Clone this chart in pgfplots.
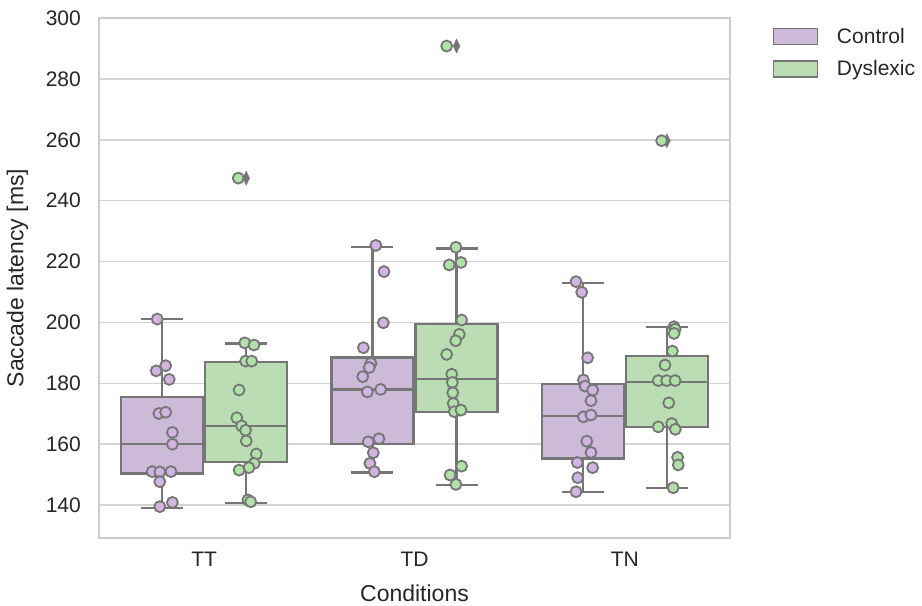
\documentclass[border=0pt]{standalone}
\usepackage{pgfplots}
\pgfplotsset{compat=1.18}
\usepackage{fontspec}
\setmainfont{Liberation Sans}
\definecolor{boxpurple}{RGB}{205,186,217}
\definecolor{boxgreen}{RGB}{186,221,180}
\definecolor{ptpurple}{RGB}{210,180,226}
\definecolor{ptgreen}{RGB}{176,226,168}
\definecolor{edgegray}{RGB}{118,118,118}
\definecolor{gridgray}{RGB}{212,212,212}
\definecolor{spinegray}{RGB}{204,204,204}
\definecolor{txt}{RGB}{38,38,38}
\pgfplotsset{
  boxfill/.style={draw=edgegray, line width=2.2bp, fill=#1, forget plot, mark=none},
  boxline/.style={draw=edgegray, line width=2.2bp, forget plot, mark=none, unbounded coords=jump},
  ptstyle/.style={only marks, mark=*, mark size=5.5bp, forget plot,
    mark options={draw=edgegray, line width=1.8bp, fill=#1}},
  flstyle/.style={only marks, mark=diamond*, mark size=7bp, forget plot,
    draw=edgegray, fill=edgegray, mark options={xscale=0.65}},
}
\begin{document}
\begin{tikzpicture}
\begin{axis}[
  at={(0,0)}, anchor=south west,
  scale only axis, width=631bp, height=520bp,
  xmin=-0.5, xmax=2.5, ymin=129.2, ymax=300,
  xtick={0,1,2}, xticklabels={TT,TD,TN},
  ytick={140,160,180,200,220,240,260,280,300},
  /pgf/number format/assume math mode=true,
  major tick length=0pt,
  ymajorgrids, grid style={gridgray, line width=1.6bp},
  axis line style={spinegray, line width=1.8bp},
  ticklabel style={font=\fontsize{21bp}{25bp}\selectfont, text=txt},
  yticklabel style={inner sep=0pt, xshift=-18bp},
  xticklabel style={inner sep=0pt, yshift=-14bp},
  xlabel={Conditions}, ylabel={Saccade latency [ms]},
  label style={font=\fontsize{23bp}{27bp}\selectfont, text=txt},
  xlabel style={at={(axis description cs:0.5,0)}, anchor=base, yshift=-63bp},
  ylabel style={at={(axis description cs:-0.1200,0.5)}, anchor=base, inner sep=0pt},
  legend style={draw=none, fill=none, at={(1,1)}, anchor=north west,
    xshift=43bp, yshift=-8bp, inner sep=0pt,
    font=\fontsize{21bp}{25bp}\selectfont, text=txt, row sep=11.7bp},
  legend cell align=left,
]
% fliers
\addplot[flstyle] coordinates {(0.2,247.4) (1.2,290.8) (2.2,259.7)};

% ---- boxes: TT
\addplot[boxline] coordinates {(-0.2,175.6) (-0.2,201.1) (nan,nan) (-0.3,201.1) (-0.1,201.1) (nan,nan)
  (-0.2,150.4) (-0.2,139.1) (nan,nan) (-0.3,139.1) (-0.1,139.1)};
\addplot[boxfill=boxpurple] coordinates {(-0.395,150.4) (-0.005,150.4) (-0.005,175.6) (-0.395,175.6)} -- cycle;
\addplot[boxline] coordinates {(-0.395,160.05) (-0.005,160.05)};
\addplot[boxline] coordinates {(0.2,187.1) (0.2,193.1) (nan,nan) (0.1,193.1) (0.3,193.1) (nan,nan)
  (0.2,154.2) (0.2,140.8) (nan,nan) (0.1,140.8) (0.3,140.8)};
\addplot[boxfill=boxgreen] coordinates {(0.005,154.2) (0.395,154.2) (0.395,187.1) (0.005,187.1)} -- cycle;
\addplot[boxline] coordinates {(0.005,166.0) (0.395,166.0)};
% ---- boxes: TD
\addplot[boxline] coordinates {(0.8,188.5) (0.8,224.9) (nan,nan) (0.7,224.9) (0.9,224.9) (nan,nan)
  (0.8,160.0) (0.8,150.7) (nan,nan) (0.7,150.7) (0.9,150.7)};
\addplot[boxfill=boxpurple] coordinates {(0.605,160.0) (0.995,160.0) (0.995,188.5) (0.605,188.5)} -- cycle;
\addplot[boxline] coordinates {(0.605,178.0) (0.995,178.0)};
\addplot[boxline] coordinates {(1.2,199.4) (1.2,224.3) (nan,nan) (1.1,224.3) (1.3,224.3) (nan,nan)
  (1.2,170.5) (1.2,146.6) (nan,nan) (1.1,146.6) (1.3,146.6)};
\addplot[boxfill=boxgreen] coordinates {(1.005,170.5) (1.395,170.5) (1.395,199.4) (1.005,199.4)} -- cycle;
\addplot[boxline] coordinates {(1.005,181.4) (1.395,181.4)};
% ---- boxes: TN
\addplot[boxline] coordinates {(1.8,179.8) (1.8,213.0) (nan,nan) (1.7,213.0) (1.9,213.0) (nan,nan)
  (1.8,155.3) (1.8,144.2) (nan,nan) (1.7,144.2) (1.9,144.2)};
\addplot[boxfill=boxpurple] coordinates {(1.605,155.3) (1.995,155.3) (1.995,179.8) (1.605,179.8)} -- cycle;
\addplot[boxline] coordinates {(1.605,169.4) (1.995,169.4)};
\addplot[boxline] coordinates {(2.2,189.1) (2.2,198.4) (nan,nan) (2.1,198.4) (2.3,198.4) (nan,nan)
  (2.2,165.7) (2.2,145.5) (nan,nan) (2.1,145.5) (2.3,145.5)};
\addplot[boxfill=boxgreen] coordinates {(2.005,165.7) (2.395,165.7) (2.395,189.1) (2.005,189.1)} -- cycle;
\addplot[boxline] coordinates {(2.005,180.4) (2.395,180.4)};

% Control points
\addplot[ptstyle=ptpurple] coordinates {
(-0.223,201.1) (-0.183,185.8) (-0.228,184.1) (-0.166,181.3) (-0.215,170.1)
(-0.183,170.5) (-0.151,163.9) (-0.151,160.0) (-0.247,151.0) (-0.211,150.9)
(-0.158,151.0) (-0.211,147.7) (-0.211,139.5) (-0.151,140.9)
(0.816,225.3) (0.855,216.7) (0.852,199.9) (0.757,191.7) (0.793,186.6)
(0.785,185.2) (0.754,182.2) (0.776,177.2) (0.839,178.0) (0.780,160.8)
(0.831,161.8) (0.804,157.2) (0.788,153.7) (0.809,151.0)
(1.768,213.4) (1.795,209.9) (1.823,188.4) (1.803,181.1) (1.811,179.1)
(1.847,177.8) (1.839,174.3) (1.803,169.0) (1.839,169.6) (1.819,161.0)
(1.839,157.3) (1.774,154.0) (1.847,152.3) (1.776,149.0) (1.768,144.4)
};
% Dyslexic points
\addplot[ptstyle=ptgreen] coordinates {
(0.193,193.3) (0.237,192.6) (0.197,187.3) (0.226,187.3) (0.166,177.8)
(0.155,168.7) (0.178,166.0) (0.197,164.6) (0.200,161.1) (0.248,156.8)
(0.238,153.7) (0.213,152.3) (0.166,151.5) (0.208,141.7) (0.221,141.1)
(0.162,247.4)
(1.197,224.7) (1.165,218.9) (1.221,219.7) (1.224,200.8) (1.213,196.1)
(1.196,194.0) (1.153,189.5) (1.177,183.0) (1.180,180.3) (1.182,176.9)
(1.184,173.4) (1.189,170.7) (1.221,171.2) (1.224,152.8) (1.169,149.9)
(1.197,146.8) (1.153,290.8)
(2.234,198.6) (2.239,197.8) (2.234,196.4) (2.226,190.6) (2.191,186.0)
(2.159,180.9) (2.199,180.9) (2.239,180.9) (2.209,173.6) (2.159,165.7)
(2.223,166.8) (2.240,164.9) (2.251,155.7) (2.254,153.2) (2.230,145.7)
(2.175,259.7)
};

\addlegendimage{legend image code/.code={
  \draw[draw=edgegray, line width=1.2bp, fill=boxpurple] (0bp,-8bp) rectangle (44bp,8bp);
  \path (61bp,0bp);}}
\addlegendentry{Control}
\addlegendimage{legend image code/.code={
  \draw[draw=edgegray, line width=1.2bp, fill=boxgreen] (0bp,-8bp) rectangle (44bp,8bp);
  \path (61bp,0bp);}}
\addlegendentry{Dyslexic}
\end{axis}
\path (-99bp,-68bp) rectangle (823bp,538bp);
\end{tikzpicture}
\end{document}
